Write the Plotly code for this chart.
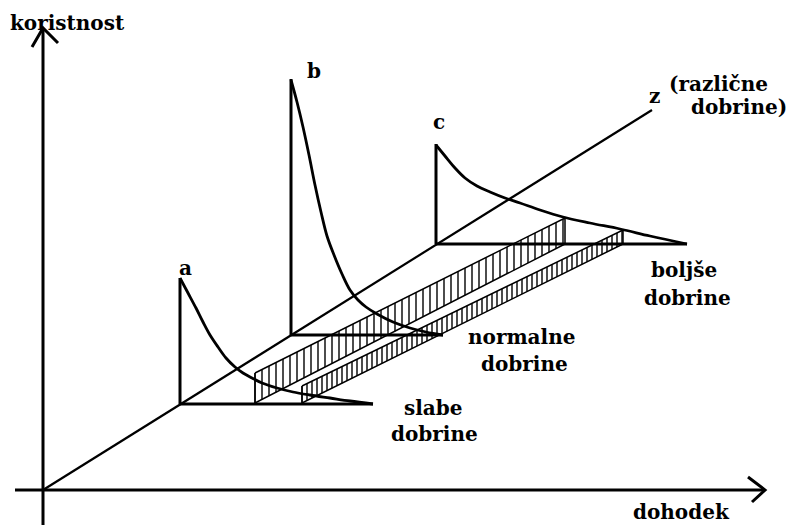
import plotly.graph_objects as go

W, H = 799, 525
PAGE_MARGIN = 8  # default body margin of the page

# ---- diagram data (pixel space of the drawing) ----
origin = (43, 490)
y_axis_top = 30
x_axis_start, x_axis_end = 15, 765
z_end = (652, 110)

# utility-curve panels a, b, c (base point on z-line, peak height, base end)
panel_names = ["a", "b", "c"]
panel_base_x = [180, 291, 436]
panel_base_y = [404, 335, 244]
panel_peak_y = [278, 79, 144]
panel_end_x = [373, 443, 687]

# curve points (x, y)
curve_a_x = [180, 188, 196, 203, 210, 218, 226, 235, 243, 252, 262, 277, 293, 310, 330, 350, 373]
curve_a_y = [278, 293, 308, 322, 335, 347, 358, 367, 373, 378, 383, 388, 392, 395, 398, 401, 404]
curve_b_x = [291, 297, 303, 309, 315, 321, 327, 334, 342, 350, 358, 366, 377, 393, 410, 426, 443]
curve_b_y = [80, 102, 127, 155, 185, 212, 236, 255, 274, 290, 300, 307, 314, 322, 328, 332, 335]
curve_c_x = [436, 445, 455, 465, 477, 490, 505, 520, 540, 563, 590, 620, 650, 687]
curve_c_y = [145, 156, 168, 178, 186, 192, 198, 203, 210, 217, 223, 229, 236, 244]

# hatched bands: [left x, left top, left bottom, right x, right top, right bottom, hatch step]
band_upper = [255, 373, 403, 565, 218, 244, 7]
band_lower = [302, 386, 403, 623, 230, 244, 5]

labels = [
    ("<b>koristnost</b>", 8, 23),
    ("<b>dohodek</b>", 631, 512),
    ("<b>a</b>", 177, 268),
    ("<b>b</b>", 305, 71),
    ("<b>c</b>", 431, 122),
    ("<b>z</b>", 647, 96),
    ("<b>(različne</b>", 667, 84),
    ("<b>dobrine)</b>", 689, 107),
    ("<b>slabe</b>", 402, 408),
    ("<b>dobrine</b>", 389, 434),
    ("<b>normalne</b>", 466, 337),
    ("<b>dobrine</b>", 479, 364),
    ("<b>boljše</b>", 649, 270),
    ("<b>dobrine</b>", 642, 298),
]

fig = go.Figure()


def add_line(xs, ys, width=3, shape="linear"):
    fig.add_trace(go.Scatter(x=xs, y=ys, mode="lines",
                             line=dict(color="black", width=width, shape=shape),
                             hoverinfo="skip", showlegend=False))


# axes
add_line([origin[0], origin[0]], [H, y_axis_top], 3)
add_line([32, origin[0], 58], [47, y_axis_top - 2, 43], 3)
add_line([x_axis_start, x_axis_end], [origin[1], origin[1]], 3)
add_line([748, x_axis_end, 752], [477, origin[1], 502], 3)
# z axis
add_line([origin[0], z_end[0]], [origin[1], z_end[1]], 2.2)

# hatched bands
for b in [band_upper, band_lower]:
    lx, lt, lb, rx, rt, rb, step = b
    hx, hy = [], []
    x = lx
    while x <= rx:
        f = (x - lx) / (rx - lx)
        top = lt + f * (rt - lt)
        bot = lb + f * (rb - lb)
        hx += [x, x, None]
        hy += [top, bot, None]
        x += step
    add_line(hx, hy, 1.4)
    add_line([lx, rx, rx, lx, lx], [lt, rt, rb, lb, lt], 1.5)

# panels
curves = [(curve_a_x, curve_a_y), (curve_b_x, curve_b_y), (curve_c_x, curve_c_y)]
for i in range(3):
    bx, by = panel_base_x[i], panel_base_y[i]
    add_line([bx, bx], [by, panel_peak_y[i]], 3)
    add_line([bx, panel_end_x[i]], [by, by], 3)
    cx, cy = curves[i]
    add_line(cx, cy, 2.8, "spline")

for txt, x, y in labels:
    fig.add_annotation(x=x, y=y, xref="x", yref="y", text=txt, showarrow=False,
                       xanchor="left", yanchor="middle",
                       font=dict(family="DejaVu Serif", size=20, color="black"))

# the figure sits inside the page's default body margin; map drawing pixels
# 1:1 onto page pixels and keep the figure inside the window
fig.update_layout(
    width=W - PAGE_MARGIN, height=H - PAGE_MARGIN,
    margin=dict(l=0, r=0, t=0, b=0),
    paper_bgcolor="white", plot_bgcolor="white",
    xaxis=dict(range=[PAGE_MARGIN, W], visible=False, fixedrange=True),
    yaxis=dict(range=[H, PAGE_MARGIN], visible=False, fixedrange=True),
    showlegend=False,
)

fig.write_html("out.html")
